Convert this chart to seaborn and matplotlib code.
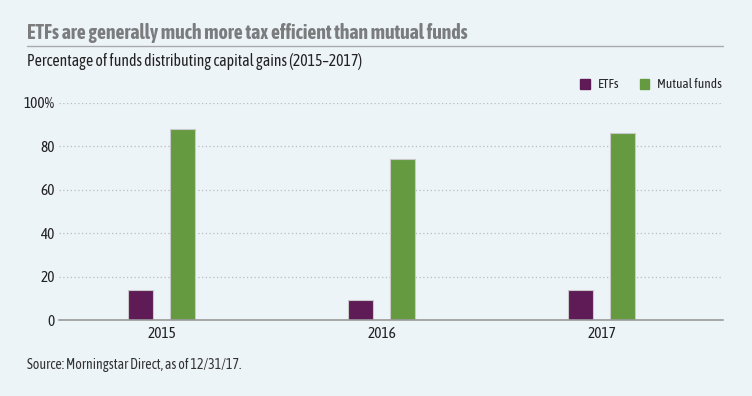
import matplotlib
matplotlib.use("Agg")
import matplotlib.pyplot as plt
import pandas as pd
import seaborn as sns

# values
years = ["2015", "2016", "2017"]
etfs = [14, 9, 14]
mutual_funds = [88, 74, 86]
series_names = ["ETFs", "Mutual funds"]
tick_vals = [0, 20, 40, 60, 80, 100]
tick_labels = ["0", "20", "40", "60", "80", "100%"]

bg = "#edf4f8"
colors = {"ETFs": "#5e1b56", "Mutual funds": "#659a40"}

sns.set_theme(style="white")
plt.rcParams["font.family"] = ["Asap Condensed", "Liberation Sans Narrow", "DejaVu Sans"]

df = pd.DataFrame({
    "year": years * 2,
    "value": etfs + mutual_funds,
    "series": [series_names[0]] * 3 + [series_names[1]] * 3,
})

fig = plt.figure(figsize=(7.52, 3.96), dpi=100, facecolor=bg)
ax = fig.add_axes([59 / 752, 1 - 320 / 396, 664 / 752, 217 / 396])
ax.set_facecolor(bg)

sns.barplot(data=df, x="year", y="value", hue="series", palette=colors,
            width=0.382, gap=0.4, ax=ax, legend=False, saturation=1,
            linewidth=0.8, edgecolor="#c9c9c9")

ax.set_ylim(0, 100)
ax.set_xlim(-0.466, 2.552)
ax.set_yticks(tick_vals)
ax.set_yticklabels(tick_labels)
ax.set_xlabel("")
ax.set_ylabel("")
for y in tick_vals[1:]:
    ax.axhline(y, color="#b8bcc0", lw=0.9, ls=(0, (1, 2)), zorder=0)
for s in ["top", "right", "left"]:
    ax.spines[s].set_visible(False)
ax.spines["bottom"].set_color("#9a9a9a")
ax.spines["bottom"].set_linewidth(1.2)
ax.tick_params(axis="both", length=0, labelsize=11, colors="#222222")
ax.tick_params(axis="y", pad=3)
ax.tick_params(axis="x", pad=5)

# titles
fig.text(27 / 752, 1 - 33 / 396, "ETFs are generally much more tax efficient than mutual funds",
         fontsize=14.2, fontweight="bold", color="#7a7c7e", va="center")
fig.add_artist(plt.Line2D([27 / 752, 723 / 752], [1 - 46 / 396] * 2,
                          color="#a8abae", lw=1, transform=fig.transFigure))
fig.text(27 / 752, 1 - 61 / 396, "Percentage of funds distributing capital gains (2015\u20132017)",
         fontsize=11.3, color="#222222", va="center")

# legend
handles = [plt.Rectangle((0, 0), 1, 1, color=colors[n]) for n in series_names]
fig.legend(handles, series_names, loc="center right", bbox_to_anchor=(734 / 752, 1 - 85 / 396),
           ncol=2, frameon=False, fontsize=9.5, handlelength=0.7, handleheight=0.7,
           columnspacing=1.6, handletextpad=0.6)

fig.text(27 / 752, 1 - 365 / 396, "Source: Morningstar Direct, as of 12/31/17.",
         fontsize=10, color="#333333", va="center")

fig.savefig("out.png", dpi=100, facecolor=bg)
